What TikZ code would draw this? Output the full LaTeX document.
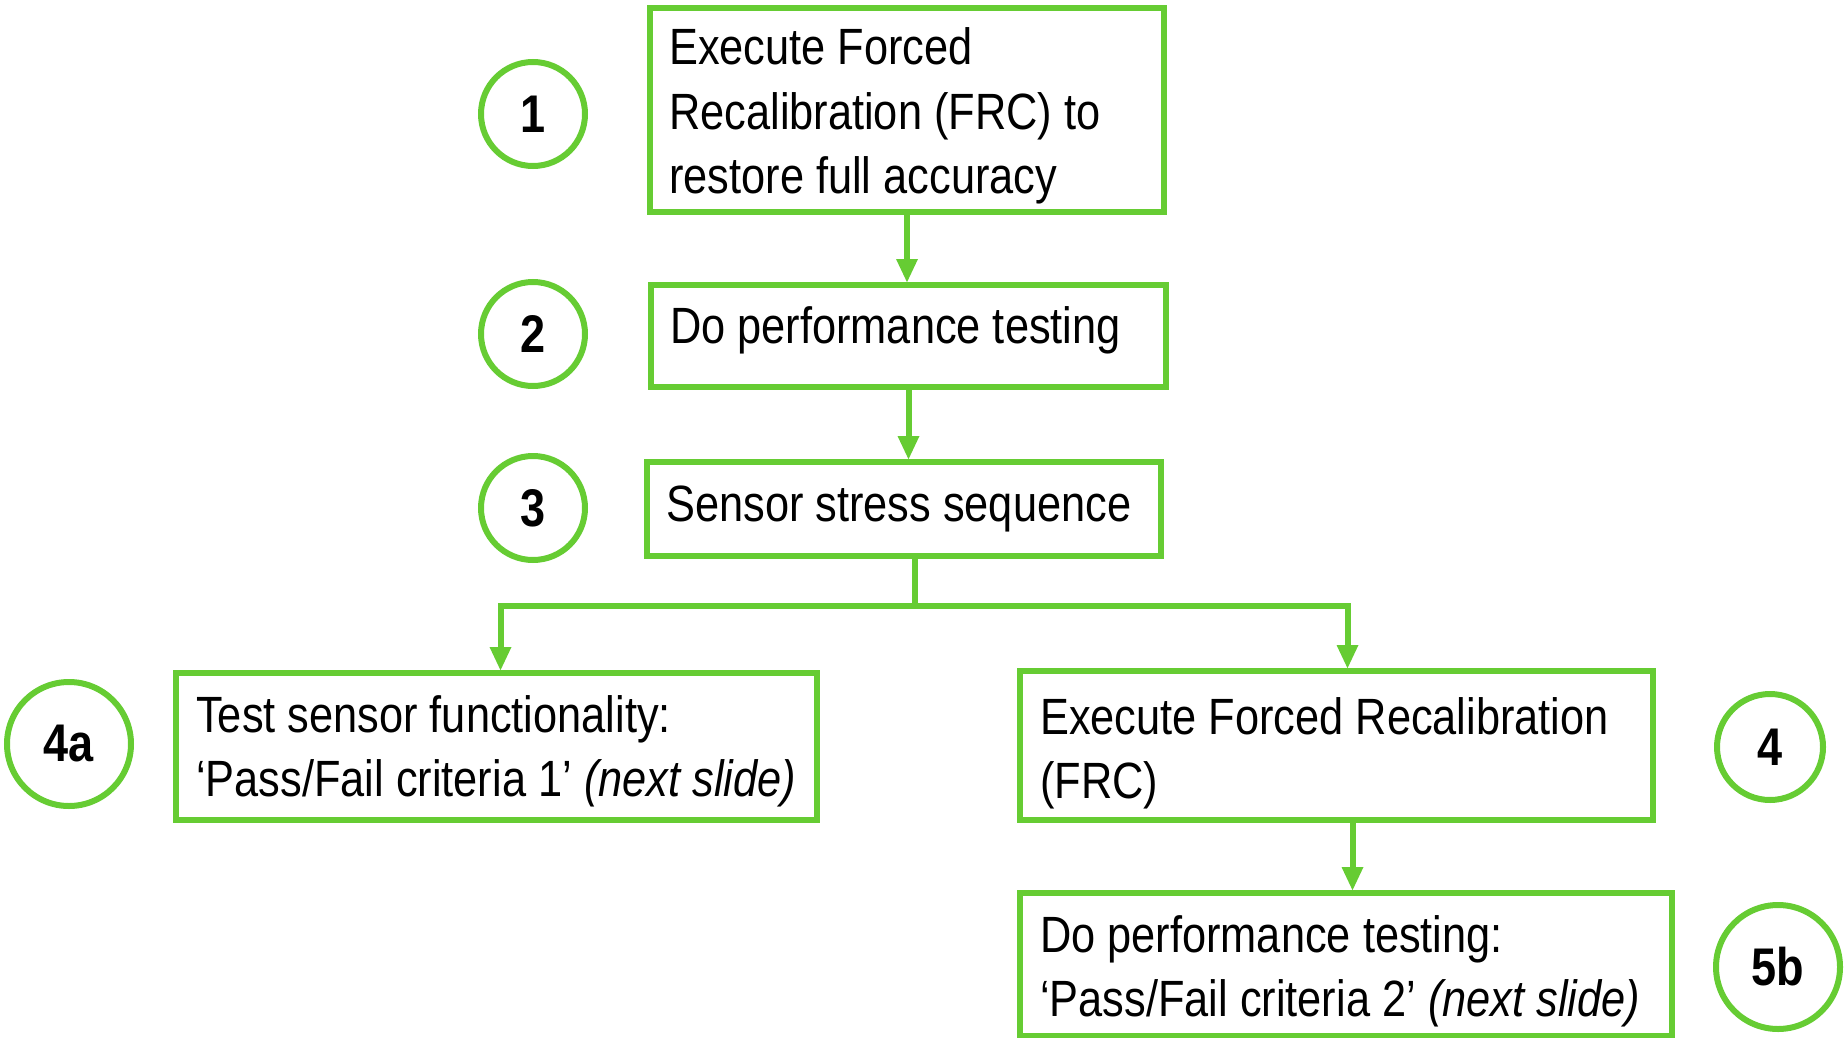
\documentclass[tikz,border=0pt]{standalone}
\usepackage{fontspec}
\setmainfont[FakeStretch=0.85]{Liberation Sans}
\usetikzlibrary{arrows.meta}
\definecolor{grn}{RGB}{102,204,51}
\tikzset{
  box/.style={draw=grn, line width=6pt, fill=white, inner sep=0pt, anchor=north west},
  txt/.style={anchor=base west, inner sep=0pt, align=left, font=\fontsize{51pt}{64pt}\selectfont},
  num/.style={draw=grn, line width=6pt, circle, inner sep=0pt, font=\fontsize{53pt}{60pt}\selectfont\bfseries},
  conn/.style={draw=grn, line width=6pt},
  arr/.style={draw=grn, line width=6pt, -{Triangle[length=24pt,width=20pt]}, shorten >=-1pt}
}
\begin{document}
\begin{tikzpicture}[x=1pt,y=1pt]
\useasboundingbox (0,0) rectangle (1844,-1038);
% boxes
\node[box, minimum width=514pt, minimum height=204pt] (b1) at (647,-5) {};
\node[box, minimum width=515pt, minimum height=102pt] (b2) at (648,-282) {};
\node[box, minimum width=514pt, minimum height=94pt] (b3) at (644,-459) {};
\node[box, minimum width=641pt, minimum height=147pt] (b4a) at (173,-670) {};
\node[box, minimum width=633pt, minimum height=149pt] (b4) at (1017,-668) {};
\node[box, minimum width=652pt, minimum height=143pt] (b5) at (1017,-890) {};
% texts (base anchor = last line)
\node[txt] (t1) at ([xshift=22pt,yshift=-188pt]b1.north west) {Execute Forced\\Recalibration (FRC) to\\restore full accuracy};
\node[txt] (t2) at ([xshift=22pt,yshift=-61pt]b2.north west) {Do performance testing};
\node[txt] (t3) at ([xshift=22pt,yshift=-62pt]b3.north west) {Sensor stress sequence};
\node[txt] (t4a) at ([xshift=23pt,yshift=-126pt]b4a.north west) {Test sensor functionality:\\‘Pass/Fail criteria 1’ \textit{(next slide)}};
\node[txt] (t4) at ([xshift=23pt,yshift=-130pt]b4.north west) {Execute Forced Recalibration\\(FRC)};
\node[txt] (t5) at ([xshift=23pt,yshift=-126pt]b5.north west) {Do performance testing:\\‘Pass/Fail criteria 2’ \textit{(next slide)}};
% numbered circles
\node[num, minimum size=104pt] (c1) at (533,-114) {1};
\node[num, minimum size=104pt] (c2) at (533,-334) {2};
\node[num, minimum size=104pt] (c3) at (533,-508) {3};
\node[num, minimum size=124pt] (c4a) at (69,-744) {4a};
\node[num, minimum size=106pt] (c4) at (1770,-747) {4};
\node[num, minimum size=124pt] (c5) at (1778,-967) {5b};
% connectors
\draw[arr] (b1.south) -- (b1.south |- b2.north);
\draw[arr] (b2.south) -- (b2.south |- b3.north);
\draw[conn] ([xshift=11pt]b3.south) -- ++(0,-47) coordinate (split);
\draw[arr] (split) -| ([xshift=4pt]b4a.north);
\draw[arr] (split) -| ([xshift=11pt]b4.north);
\draw[arr] ([xshift=16pt]b4.south) -- ([xshift=16pt]b4.south |- b5.north);
\end{tikzpicture}
\end{document}
